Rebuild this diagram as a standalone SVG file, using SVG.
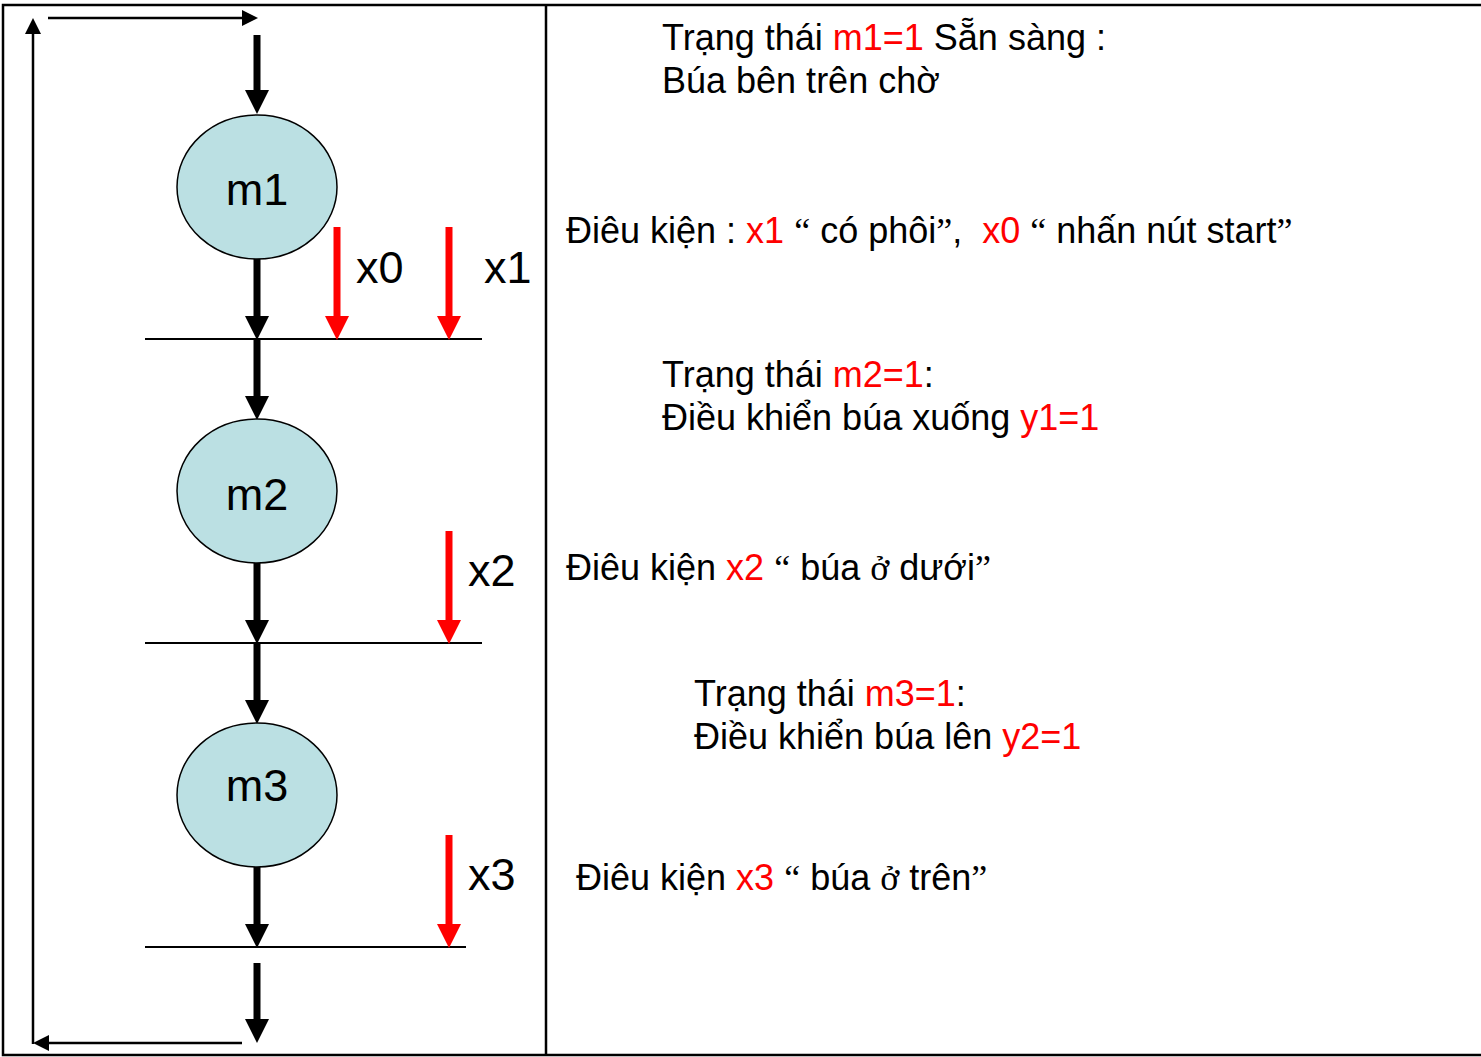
<svg xmlns="http://www.w3.org/2000/svg" width="1481" height="1057" viewBox="0 0 1481 1057">
<style>
text{font-family:"Liberation Sans",Arial,sans-serif;fill:#000;white-space:pre}
.t{font-size:36px}
.lbl{font-size:45px}
.r{fill:#ff0000}
.q{font-family:"Liberation Serif","Times New Roman",serif}
.frame{stroke:#000;stroke-width:2.5;fill:none}
.bar{stroke:#000;stroke-width:2;fill:none}
.thick{stroke:#000;stroke-width:7;fill:none}
.red{stroke:#ff0000;stroke-width:7;fill:none}
.thin{stroke:#000;stroke-width:2.5;fill:none}
.state{fill:#bbe0e3;stroke:#000;stroke-width:1.5}
</style>
<defs>
<marker id="hb" markerUnits="userSpaceOnUse" markerWidth="24" markerHeight="24" viewBox="0 0 24 24" refX="0" refY="12" orient="auto"><path d="M0,0 L24,12 L0,24 z" fill="#000"/></marker>
<marker id="hr" markerUnits="userSpaceOnUse" markerWidth="24" markerHeight="24" viewBox="0 0 24 24" refX="0" refY="12" orient="auto"><path d="M0,0 L24,12 L0,24 z" fill="#ff0000"/></marker>
<marker id="ht" markerUnits="userSpaceOnUse" markerWidth="16" markerHeight="16" viewBox="0 0 16 16" refX="0" refY="8" orient="auto"><path d="M0,0 L16,8 L0,16 z" fill="#000"/></marker>
</defs>
<rect width="1481" height="1057" fill="#fff"/>
<g id="frame">
<path class="frame" d="M1481,5 H3 V1055 H1481"/>
<line class="frame" x1="546" y1="5" x2="546" y2="1055"/>
</g>
<g id="transitions">
<line class="bar" x1="145" y1="339" x2="482" y2="339"/>
<line class="bar" x1="145" y1="643" x2="482" y2="643"/>
<line class="bar" x1="145" y1="947" x2="466" y2="947"/>
</g>
<g id="connectors">
<line class="thick" x1="257" y1="35" x2="257" y2="90" marker-end="url(#hb)"/>
<line class="thick" x1="257" y1="259" x2="257" y2="316" marker-end="url(#hb)"/>
<line class="thick" x1="257" y1="339" x2="257" y2="396" marker-end="url(#hb)"/>
<line class="thick" x1="257" y1="563" x2="257" y2="620" marker-end="url(#hb)"/>
<line class="thick" x1="257" y1="643" x2="257" y2="700" marker-end="url(#hb)"/>
<line class="thick" x1="257" y1="867" x2="257" y2="924" marker-end="url(#hb)"/>
<line class="thick" x1="257" y1="963" x2="257" y2="1019" marker-end="url(#hb)"/>
<line class="red" x1="337" y1="227" x2="337" y2="316" marker-end="url(#hr)"/>
<line class="red" x1="449" y1="227" x2="449" y2="316" marker-end="url(#hr)"/>
<line class="red" x1="449" y1="531" x2="449" y2="620" marker-end="url(#hr)"/>
<line class="red" x1="449" y1="835" x2="449" y2="924" marker-end="url(#hr)"/>
<line class="thin" x1="48" y1="18" x2="242" y2="18" marker-end="url(#ht)"/>
<line class="thin" x1="242" y1="1043" x2="49" y2="1043" marker-end="url(#ht)"/>
<line class="thin" x1="33" y1="1044" x2="33" y2="34" marker-end="url(#ht)"/>
</g>
<g id="m1">
<ellipse class="state" cx="257" cy="187" rx="80" ry="72"/>
<text class="lbl" x="257" y="205" text-anchor="middle">m1</text>
</g>
<g id="m2">
<ellipse class="state" cx="257" cy="491" rx="80" ry="72"/>
<text class="lbl" x="257" y="510" text-anchor="middle">m2</text>
</g>
<g id="m3">
<ellipse class="state" cx="257" cy="795" rx="80" ry="72"/>
<text class="lbl" x="257" y="801" text-anchor="middle">m3</text>
</g>
<g id="labels">
<text class="lbl" x="356" y="283">x0</text>
<text class="lbl" x="484" y="283">x1</text>
<text class="lbl" x="468" y="586">x2</text>
<text class="lbl" x="468" y="890">x3</text>
</g>
<g id="notes">
<text class="t" x="662" y="50">Trạng thái <tspan class="r">m1=1</tspan> Sẵn sàng :</text>
<text class="t" x="662" y="93">Búa bên trên chờ</text>
<text class="t" x="566" y="243">Điêu kiện : <tspan class="r">x1</tspan> <tspan class="q">“</tspan> có phôi<tspan class="q">”</tspan>,  <tspan class="r">x0</tspan> <tspan class="q">“</tspan> nhấn nút start<tspan class="q">”</tspan></text>
<text class="t" x="662" y="387">Trạng thái <tspan class="r">m2=1</tspan>:</text>
<text class="t" x="662" y="430">Điều khiển búa xuống <tspan class="r">y1=1</tspan></text>
<text class="t" x="566" y="580">Điêu kiện <tspan class="r">x2</tspan> <tspan class="q">“</tspan> búa <tspan class="q">ở</tspan> dưới<tspan class="q">”</tspan></text>
<text class="t" x="694" y="706">Trạng thái <tspan class="r">m3=1</tspan>:</text>
<text class="t" x="694" y="749">Điều khiển búa lên <tspan class="r">y2=1</tspan></text>
<text class="t" x="576" y="890">Điêu kiện <tspan class="r">x3</tspan> <tspan class="q">“</tspan> búa <tspan class="q">ở</tspan> trên<tspan class="q">”</tspan></text>
</g>
</svg>
